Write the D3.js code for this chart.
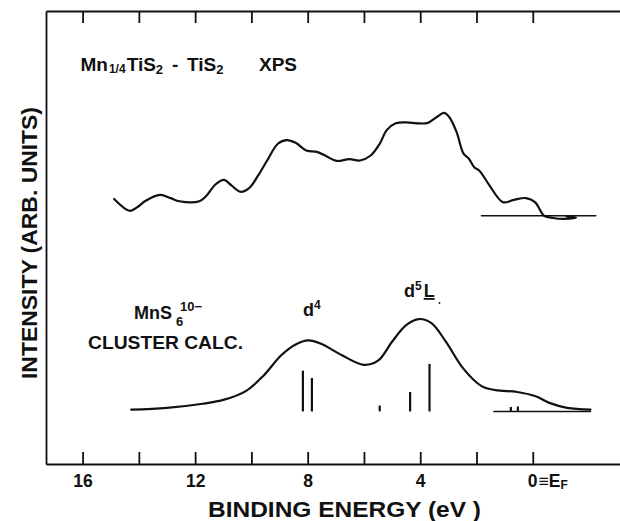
<!DOCTYPE html>
<html><head><meta charset="utf-8">
<script src="https://cdn.jsdelivr.net/npm/d3@7"></script>
<style>
body{margin:0;background:#fff}
svg{display:block}
text{font-family:"Liberation Sans",Arial,sans-serif;font-weight:bold;fill:#111}
</style></head><body>
<svg id="chart" width="620" height="521"></svg>
<script>
// XPS difference spectrum Mn1/4TiS2 - TiS2 (binding energy in eV, intensity in arb. units)
const xpsEnergy = [14.88,14.33,14.08,13.76,13.25,12.87,12.56,11.85,11.60,11.28,10.97,10.71,10.39,10.08,9.76,9.44,9.06,8.74,8.43,8.05,7.67,7.35,6.97,6.52,6.14,5.76,5.44,5.19,4.87,4.49,4.11,3.73,3.41,3.16,2.97,2.71,2.46,2.27,2.08,1.89,1.57,1.06,0.68,0.24,-0.08,-0.40,-0.72,-1.10,-1.54,-1.20];
const xpsIntensity = [58.5,55.9,56.6,58.1,59.4,58.7,58.0,58.0,59.2,61.7,62.7,61.5,60.1,60.9,63.7,67.0,70.7,71.5,70.9,69.2,68.9,68.0,66.9,67.3,67.0,68.1,70.7,73.7,75.2,75.4,75.2,75.3,76.6,77.5,76.6,73.3,68.5,67.4,65.5,64.7,61.8,57.8,58.3,58.7,57.8,54.8,54.3,54.1,54.4,54.7];
// zero line under the XPS trace near the Fermi level
const xpsBaseEnergy = [1.82, -2.24];
const xpsBaseLevel = 54.8;

// MnS6(10-) cluster calculation, broadened spectrum
const calcEnergy = [14.27,13.0,11.73,10.97,10.20,9.57,8.94,8.43,7.98,7.54,6.78,6.01,5.50,5.0,4.49,4.05,3.60,3.09,2.46,1.82,1.32,0.55,-0.08,-0.59,-1.22,-2.05];
const calcIntensity = [12.0,12.4,13.3,14.2,16.1,19.5,24.0,26.4,27.3,26.6,24.0,21.9,22.8,27.0,30.7,32.0,31.1,27.0,21.0,17.2,16.3,15.9,15.0,13.5,12.4,12.0];
const calcBaseEnergy = [1.38, -2.05];
const calcBaseLevel = 11.6;
// final-state line spectrum (position, height above the zero line)
const stickEnergy = [8.17, 7.85, 5.44, 4.36, 3.67, 0.78, 0.53];
const stickHeight = [9.0, 7.4, 1.3, 4.3, 10.5, 1.0, 1.1];

// axis ticks
const xTickValues = [16, 14, 12, 10, 8, 6, 4, 2, 0];
const xTickLabels = {16: "16", 12: "12", 8: "8", 4: "4", 0: "0"};
const xDomain = [17.3, -3.1];
const yDomain = [0, 100];

const svg = d3.select("#chart");
const x = d3.scaleLinear().domain(xDomain).range([46, 620]);
const y = d3.scaleLinear().domain(yDomain).range([464, 11]);

// frame: bottom axis with labels, top axis with inward ticks, plain left edge
const axisB = svg.append("g").attr("transform", "translate(0,464)")
  .call(d3.axisBottom(x).tickValues(xTickValues).tickSize(-12).tickSizeOuter(0)
    .tickPadding(11).tickFormat(d => xTickLabels[d] ?? ""));
const axisT = svg.append("g").attr("transform", "translate(0,11)")
  .call(d3.axisTop(x).tickValues(xTickValues).tickSize(-12).tickSizeOuter(0).tickFormat(""));
const axisL = svg.append("g").attr("transform", "translate(46,0)")
  .call(d3.axisLeft(y).tickValues([]).tickSizeOuter(0));

for (const g of [axisB, axisT, axisL]) {
  g.attr("font-family", null).attr("font-size", null);
  g.selectAll("path,line").attr("stroke", "#111").attr("stroke-width", 1.8);
}
axisB.selectAll("text").attr("font-size", 17.5).attr("fill", "#111");
// the zero label reads "0 ≡ E_F"
axisB.selectAll(".tick").filter(d => d === 0).select("text")
  .attr("text-anchor", "start").attr("x", -5.5)
  .call(t => {
    t.append("tspan").attr("dx", 1).text("≡E");
    t.append("tspan").attr("font-size", 12).attr("dy", 2).text("F");
  });

const line = d3.line().x(d => x(d[0])).y(d => y(d[1])).curve(d3.curveCatmullRom.alpha(0.5));
const stroke = {fill: "none", stroke: "#111", "stroke-width": 2.2, "stroke-linejoin": "round", "stroke-linecap": "round"};
function styled(sel) { for (const k in stroke) sel.attr(k, stroke[k]); return sel; }

// XPS trace
styled(svg.append("path").attr("d", line(d3.zip(xpsEnergy, xpsIntensity))));
styled(svg.append("line")
  .attr("x1", x(xpsBaseEnergy[0])).attr("x2", x(xpsBaseEnergy[1]))
  .attr("y1", y(xpsBaseLevel)).attr("y2", y(xpsBaseLevel))).attr("stroke-width", 1.6);

// cluster calculation
styled(svg.append("path").attr("d", line(d3.zip(calcEnergy, calcIntensity))));
styled(svg.append("line")
  .attr("x1", x(calcBaseEnergy[0])).attr("x2", x(calcBaseEnergy[1]))
  .attr("y1", y(calcBaseLevel)).attr("y2", y(calcBaseLevel))).attr("stroke-width", 1.6);
svg.append("g").selectAll("line").data(d3.zip(stickEnergy, stickHeight)).join("line")
  .attr("x1", d => x(d[0])).attr("x2", d => x(d[0]))
  .attr("y1", y(calcBaseLevel)).attr("y2", d => y(calcBaseLevel + d[1]))
  .attr("stroke", "#111").attr("stroke-width", 2.2);

// annotations
const t1 = svg.append("text").attr("x", 80.5).attr("y", 71).attr("font-size", 19);
t1.append("tspan").text("Mn");
t1.append("tspan").attr("font-size", 12).attr("dy", 2).attr("dx", 1).text("1/4");
t1.append("tspan").attr("dy", -2).attr("dx", 1).text("TiS");
t1.append("tspan").attr("font-size", 13).attr("dy", 3).text("2");
t1.append("tspan").attr("dy", -3).attr("x", 172).text("-");
t1.append("tspan").attr("x", 187).text("TiS");
t1.append("tspan").attr("font-size", 13).attr("dy", 3).text("2");
svg.append("text").attr("x", 259).attr("y", 71).attr("font-size", 19).text("XPS");

const t2 = svg.append("text").attr("x", 134).attr("y", 319).attr("font-size", 18);
t2.append("tspan").text("MnS");
t2.append("tspan").attr("font-size", 13).attr("x", 176).attr("dy", 7).text("6");
t2.append("tspan").attr("font-size", 13).attr("x", 180).attr("dy", -15).text("10−");
svg.append("text").attr("x", 88).attr("y", 349).attr("font-size", 18)
  .attr("textLength", 155).attr("lengthAdjust", "spacingAndGlyphs").text("CLUSTER CALC.");

const t3 = svg.append("text").attr("x", 303).attr("y", 316).attr("font-size", 18);
t3.append("tspan").text("d");
t3.append("tspan").attr("font-size", 12).attr("dy", -7).text("4");
const t4 = svg.append("text").attr("x", 404).attr("y", 297).attr("font-size", 18);
t4.append("tspan").text("d");
t4.append("tspan").attr("font-size", 12).attr("dy", -7).text("5");
t4.append("tspan").attr("dy", 7).attr("dx", 2).attr("text-decoration", "underline").text("L");
svg.append("circle").attr("cx", 439.5).attr("cy", 303).attr("r", 0.9).attr("fill", "#111");

// axis titles
svg.append("text").attr("x", 344.5).attr("y", 517).attr("font-size", 21.5)
  .attr("text-anchor", "middle").attr("textLength", 273).attr("lengthAdjust", "spacingAndGlyphs")
  .text("BINDING ENERGY (eV )");
svg.append("text").attr("transform", "translate(36.5,243) rotate(-90)").attr("font-size", 22)
  .attr("text-anchor", "middle").attr("textLength", 272).attr("lengthAdjust", "spacingAndGlyphs")
  .text("INTENSITY (ARB. UNITS)");
</script>
</body></html>
